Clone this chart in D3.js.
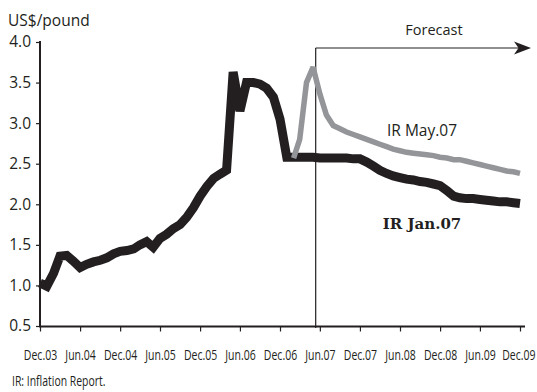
<!DOCTYPE html>
<html>
<head>
<meta charset="utf-8">
<script src="https://cdn.jsdelivr.net/npm/d3@7"></script>
<style>
  html, body { margin: 0; padding: 0; background: #fff; }
  svg { display: block; }
  text { fill: #231f20; }
</style>
</head>
<body>
<svg id="chart" width="537" height="392"></svg>
<script>
// Copper price, US$/pound: monthly history and the two Inflation Report projections
const seriesStart = "2003-12";
const irJan07 = [
  1.03, 0.99, 1.15, 1.36, 1.37, 1.30, 1.22, 1.26, 1.29, 1.31, 1.34, 1.39,
  1.42, 1.43, 1.45, 1.50, 1.54, 1.47, 1.58, 1.63, 1.70, 1.75, 1.84, 1.96,
  2.10, 2.22, 2.32, 2.37, 2.42, 3.63, 3.15, 3.50, 3.50, 3.48, 3.43, 3.32,
  3.05, 2.58, 2.58, 2.58, 2.58, 2.58, 2.57, 2.57, 2.57, 2.57, 2.57, 2.56,
  2.56, 2.52, 2.47, 2.42, 2.38, 2.35, 2.33, 2.31, 2.30, 2.28, 2.27, 2.25,
  2.23, 2.17, 2.10, 2.08, 2.07, 2.07, 2.06, 2.05, 2.04, 2.03, 2.03, 2.02,
  2.01
];
const mayStart = "2007-02";
const irMay07 = [
  2.57, 2.80, 3.50, 3.69, 3.36, 3.10, 2.97, 2.93, 2.89, 2.86, 2.83,
  2.80, 2.77, 2.74, 2.71, 2.68, 2.66, 2.64, 2.63, 2.62, 2.61, 2.60,
  2.58, 2.57, 2.55, 2.55, 2.53, 2.51, 2.49, 2.47, 2.45, 2.43, 2.41,
  2.40, 2.38
];
const forecastStart = "2007-05-13";
const xTickLabels = ["Dec.03", "Jun.04", "Dec.04", "Jun.05", "Dec.05", "Jun.06",
  "Dec.06", "Jun.07", "Dec.07", "Jun.08", "Dec.08", "Jun.09", "Dec.09"];
const yTicks = [0.5, 1.0, 1.5, 2.0, 2.5, 3.0, 3.5, 4.0];

const parseMonth = d3.utcParse("%Y-%m");
const parseDay = d3.utcParse("%Y-%m-%d");

function monthly(start, values) {
  const t0 = parseMonth(start);
  return values.map((v, i) => ({ date: d3.utcMonth.offset(t0, i), value: v }));
}
const janData = monthly(seriesStart, irJan07);
const mayData = monthly(mayStart, irMay07);

const svg = d3.select("#chart");
const sansFont = "'Open Sans', 'Noto Sans', sans-serif";
const W = +svg.attr("width");
const squeeze = 0.7;   // horizontal condensing of the small labels

const t0 = parseMonth("2003-12");
const t1 = parseMonth("2009-12");
const x = d3.scaleUtc().domain([t0, t1]).range([40, 520]);
const y = d3.scaleLinear().domain([0.5, 4.0]).range([326, 42]);
// half-year ticks, December and June
const tickDates = d3.utcMonth.range(t0, d3.utcMonth.offset(t1, 1), 6);

// Forecast marker: vertical rule and arrow
const fx = x(parseDay(forecastStart));
svg.append("line")
  .attr("x1", fx).attr("x2", fx).attr("y1", 48).attr("y2", 328)
  .attr("stroke", "#231f20").attr("stroke-width", 1.2);
svg.append("line")
  .attr("x1", fx).attr("x2", 524).attr("y1", 48).attr("y2", 48)
  .attr("stroke", "#231f20").attr("stroke-width", 1.2);
svg.append("path")
  .attr("d", "M531,48 L514,41.5 L518.5,48 L514,54.5 Z")
  .attr("fill", "#231f20");
svg.append("text")
  .attr("x", 434).attr("y", 35).attr("text-anchor", "middle")
  .style("font-family", sansFont).style("font-size", "14.5px")
  .text("Forecast");

// Lines
const line = d3.line().x(d => x(d.date)).y(d => y(d.value));
svg.append("path").datum(janData)
  .attr("d", line).attr("fill", "none")
  .attr("stroke", "#231f20").attr("stroke-width", 9)
  .attr("stroke-linejoin", "miter").attr("stroke-miterlimit", 2.2);
svg.append("path").datum(mayData)
  .attr("d", line).attr("fill", "none")
  .attr("stroke", "#939598").attr("stroke-width", 5.5)
  .attr("stroke-linejoin", "miter").attr("stroke-miterlimit", 3);

// Axes
const yAxis = d3.axisLeft(y).tickValues(yTicks).tickFormat(d3.format(".1f"))
  .tickSize(4).tickPadding(5);
const gy = svg.append("g").attr("transform", "translate(40,0)").call(yAxis);
gy.select(".domain").attr("d", "M0,41V327").attr("stroke", "#231f20").attr("stroke-width", 2);
gy.selectAll(".tick line").attr("stroke", "#231f20").attr("stroke-width", 1.2);
gy.selectAll(".tick text")
  .style("font-family", sansFont).style("font-size", "15.5px").attr("fill", "#231f20");

const xAxis = d3.axisBottom(x).tickValues(tickDates)
  .tickFormat((d, i) => xTickLabels[i]).tickSize(5).tickPadding(18);
const gx = svg.append("g").attr("transform", "translate(0,326.5)").call(xAxis);
gx.select(".domain").attr("d", "M39,0H525").attr("stroke", "#231f20").attr("stroke-width", 2.2);
gx.selectAll(".tick line").attr("stroke", "#231f20").attr("stroke-width", 1.2);
gx.selectAll(".tick text")
  .style("font-family", sansFont).style("font-size", "15px").attr("fill", "#231f20")
  .each(function (d) {
    const w = this.getComputedTextLength() * squeeze;
    // keep the last label inside the drawing area
    const right = x(d) + w / 2;
    const shift = right > W - 2 ? (W - 2) - right : 0;
    d3.select(this).attr("transform", `translate(${shift},0) scale(${squeeze},1)`);
  });

// Unit title
svg.append("text").attr("x", 8).attr("y", 26)
  .style("font-family", sansFont).style("font-size", "15.5px")
  .text("US$/pound");

// Series labels
svg.append("text").attr("x", 422).attr("y", 136).attr("text-anchor", "middle")
  .style("font-family", sansFont).style("font-size", "15.5px")
  .text("IR May.07");
svg.append("text").attr("x", 422).attr("y", 229).attr("text-anchor", "middle")
  .style("font-family", "'DejaVu Serif', 'Liberation Serif', serif")
  .style("font-size", "15px").style("font-weight", "bold")
  .text("IR Jan.07");

// Footnote
svg.append("text")
  .attr("transform", `translate(12,386) scale(${squeeze + 0.02},1)`)
  .style("font-family", sansFont).style("font-size", "14.5px")
  .text("IR: Inflation Report.");
</script>
</body>
</html>
